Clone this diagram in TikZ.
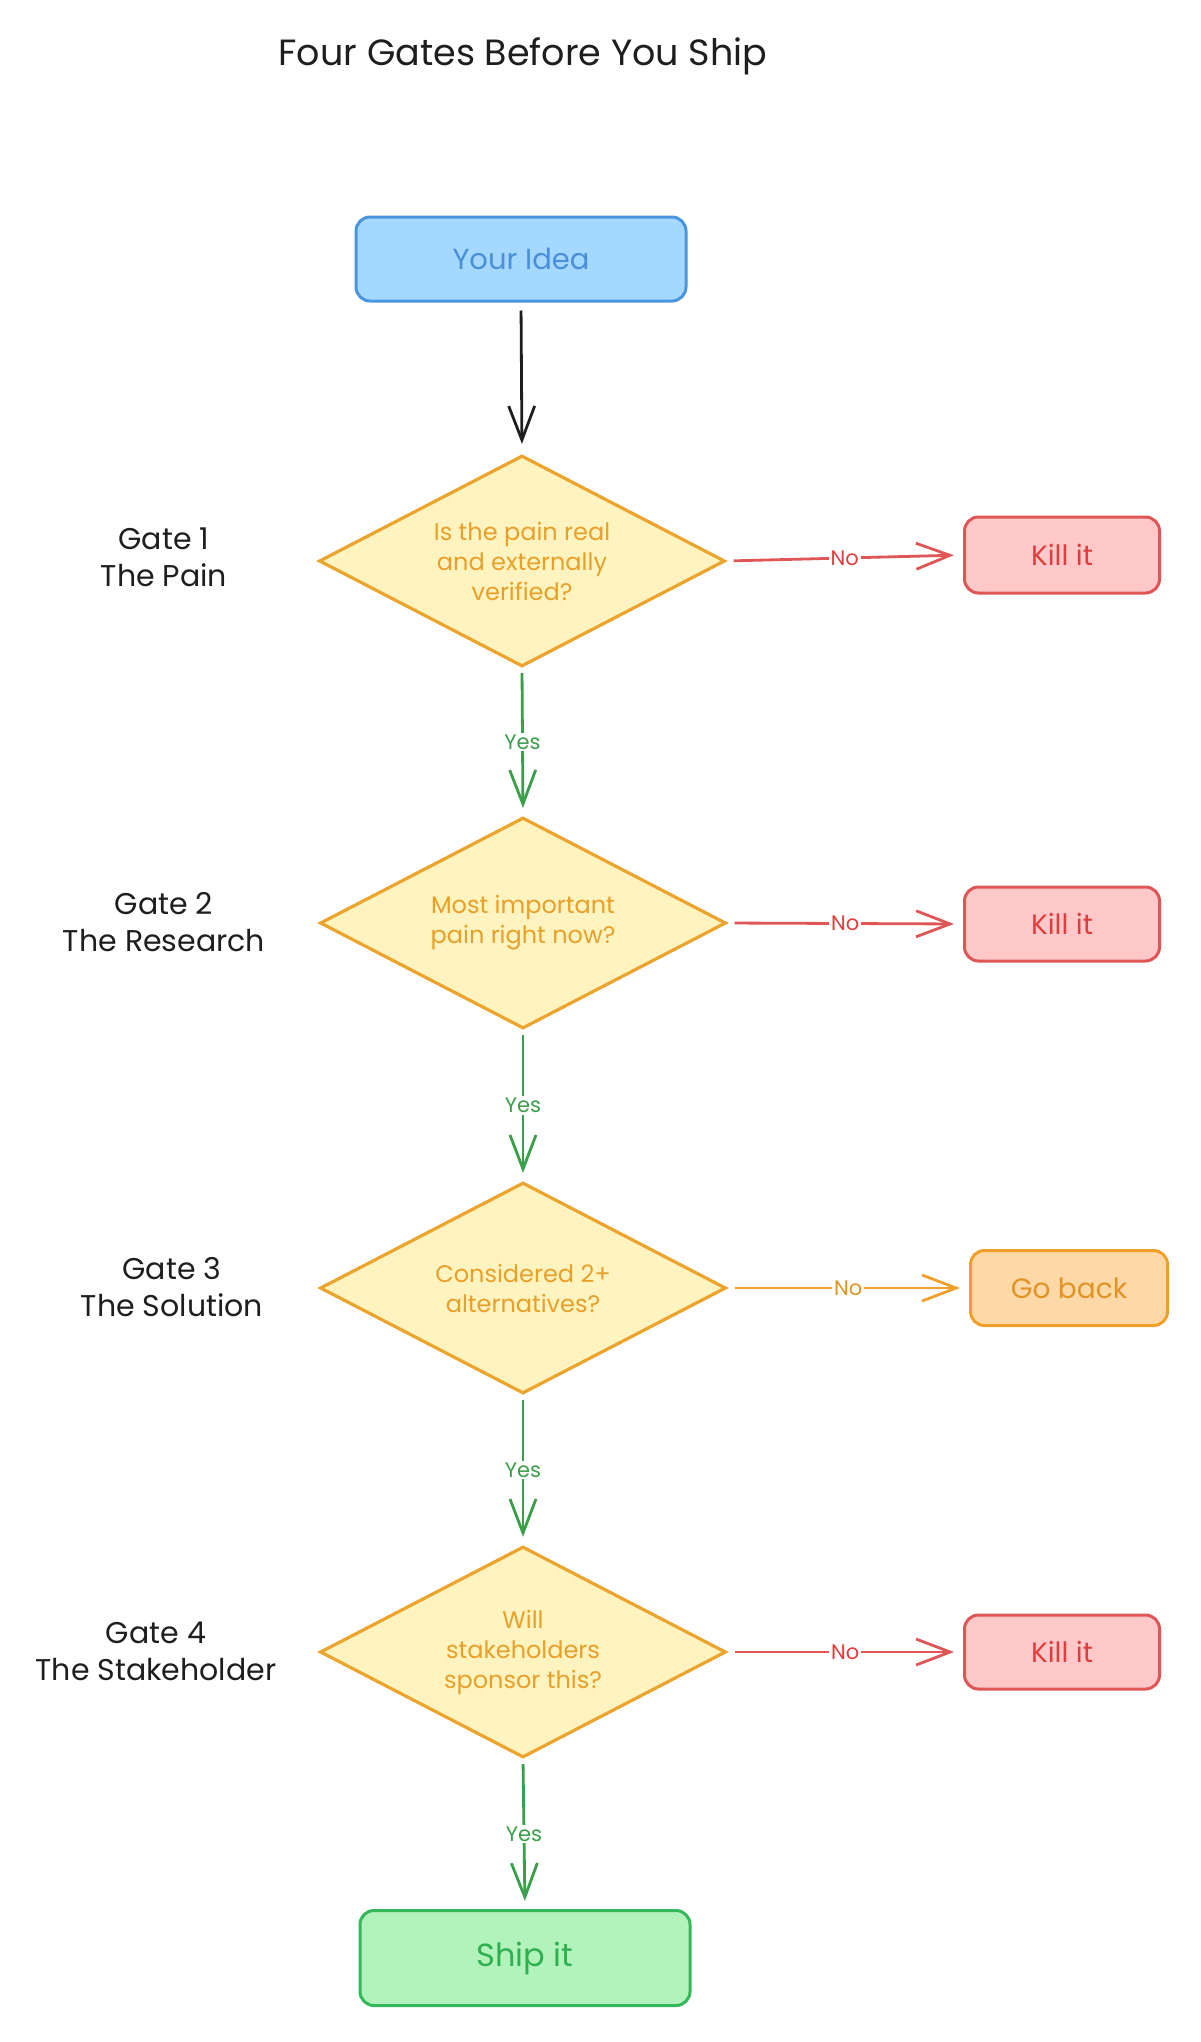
\documentclass[tikz,border=0pt]{standalone}
\usepackage{fontspec}
\setmainfont{Poppins}
\usetikzlibrary{shapes.geometric,arrows.meta}
\definecolor{bfill}{HTML}{A5D8FF}
\definecolor{bline}{HTML}{4A95DD}
\definecolor{btext}{HTML}{4A8FD8}
\definecolor{yfill}{HTML}{FFF3BF}
\definecolor{yline}{HTML}{EBA52E}
\definecolor{ytext}{HTML}{E8A02A}
\definecolor{rfill}{HTML}{FFC9C9}
\definecolor{rline}{HTML}{E05555}
\definecolor{rtext}{HTML}{E03E3E}
\definecolor{ofill}{HTML}{FFD8A8}
\definecolor{oline}{HTML}{F0A028}
\definecolor{otext}{HTML}{E09424}
\definecolor{gfill}{HTML}{B2F2BB}
\definecolor{gline}{HTML}{34B85A}
\definecolor{gtext}{HTML}{2FB050}
\definecolor{garrow}{HTML}{3A9E4A}
\definecolor{ink}{HTML}{1E1E1E}
\begin{document}
\begin{tikzpicture}[x=1pt,y=-1pt,
  box/.style={draw, rounded corners=14pt, line width=3pt, inner sep=0pt,
    font=\fontsize{28}{32}\selectfont},
  gate/.style={shape=diamond, draw=yline, fill=yfill, text=ytext, line width=3.2pt,
    minimum width=406pt, minimum height=211pt, aspect=1.92, inner sep=0pt,
    align=center, font=\fontsize{24}{30}\selectfont},
  gatelabel/.style={align=center, text=ink, font=\fontsize{30}{37}\selectfont},
  arr/.style={line width=2.8pt, -{Straight Barb[length=34pt,width=26pt]}},
  lbl/.style={fill=white, inner sep=2pt, font=\fontsize{21}{24}\selectfont},
]
\useasboundingbox (0,0) rectangle (1201,2042);

\node[text=ink, font=\fontsize{36.5}{40}\selectfont] (title) at (523,56) {Four Gates Before You Ship};

\node[box, draw=bline, fill=bfill, text=btext, minimum width=330pt, minimum height=84pt, font=\fontsize{29}{34}\selectfont] (idea) at (521,259) {Your Idea};

\node[gate] (d1) at (522,561) {Is the pain real\\and externally\\verified?};
\node[gate] (d2) at (523,923) {Most important\\pain right now?};
\node[gate] (d3) at (523,1288) {Considered 2+\\alternatives?};
\node[gate] (d4) at (523,1652) {Will\\stakeholders\\sponsor this?};

\node[gatelabel] (g1) at (164,557) {Gate 1\\The Pain};
\node[gatelabel] (g2) at (164,922) {Gate 2\\The Research};
\node[gatelabel] (g3) at (172,1287) {Gate 3\\The Solution};
\node[gatelabel] (g4) at (156,1651) {Gate 4\\The Stakeholder};

\node[box, draw=rline, fill=rfill, text=rtext, minimum width=195pt, minimum height=76pt] (k1) at (1062,555) {Kill it};
\node[box, draw=rline, fill=rfill, text=rtext, minimum width=195pt, minimum height=74pt] (k2) at (1062,924) {Kill it};
\node[box, draw=oline, fill=ofill, text=otext, minimum width=197pt, minimum height=75pt] (gb) at (1069,1288) {Go back};
\node[box, draw=rline, fill=rfill, text=rtext, minimum width=195pt, minimum height=74pt] (k3) at (1062,1652) {Kill it};

\node[box, draw=gline, fill=gfill, text=gtext, minimum width=330pt, minimum height=95pt, font=\fontsize{32}{36}\selectfont] (ship) at (525,1958) {Ship it};

\draw[arr, ink, shorten <=8pt, shorten >=10pt] (idea.south) -- (d1.north);

\draw[arr, garrow, shorten <=5pt, shorten >=8pt] (d1.south) -- node[lbl, text=garrow] (y1) {Yes} (d2.north);
\draw[arr, garrow, shorten <=5pt, shorten >=8pt] (d2.south) -- node[lbl, text=garrow] (y2) {Yes} (d3.north);
\draw[arr, garrow, shorten <=5pt, shorten >=8pt] (d3.south) -- node[lbl, text=garrow] (y3) {Yes} (d4.north);
\draw[arr, garrow, shorten <=5pt, shorten >=8pt] (d4.south) -- node[lbl, text=garrow] (y4) {Yes} (ship.north);

\draw[arr, rline, shorten <=7pt, shorten >=9pt] (d1.east) -- node[lbl, text=rtext] (n1) {No} (k1.west);
\draw[arr, rline, shorten <=7pt, shorten >=9pt] (d2.east) -- node[lbl, text=rtext] (n2) {No} (k2.west);
\draw[arr, oline, shorten <=7pt, shorten >=9pt] (d3.east) -- node[lbl, text=otext] (n3) {No} (gb.west);
\draw[arr, rline, shorten <=7pt, shorten >=9pt] (d4.east) -- node[lbl, text=rtext] (n4) {No} (k3.west);
\end{tikzpicture}
\end{document}
